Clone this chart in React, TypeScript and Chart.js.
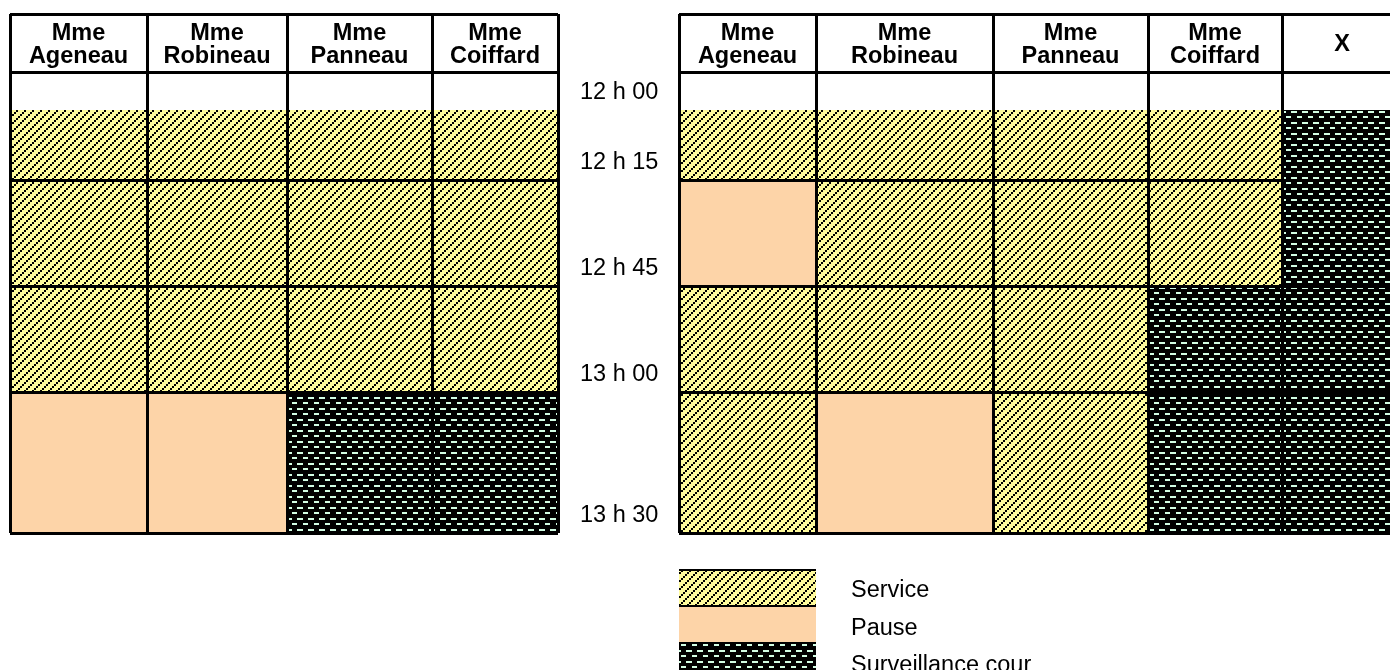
import React, { useEffect, useRef } from 'react';
import { Chart, registerables } from 'chart.js';

Chart.register(...registerables);

// ---------- data ----------
const timeLabels = ['12 h 00', '12 h 15', '12 h 45', '13 h 00', '13 h 30'];

const leftStaff = ['Mme Ageneau', 'Mme Robineau', 'Mme Panneau', 'Mme Coiffard'];
const rightStaff = ['Mme Ageneau', 'Mme Robineau', 'Mme Panneau', 'Mme Coiffard', 'X'];

// '' = empty, 'S' = Service, 'P' = Pause, 'C' = Surveillance cour (one entry per time slot)
const leftAgeneau = ['', 'S', 'S', 'S', 'P'];
const leftRobineau = ['', 'S', 'S', 'S', 'P'];
const leftPanneau = ['', 'S', 'S', 'S', 'C'];
const leftCoiffard = ['', 'S', 'S', 'S', 'C'];

const rightAgeneau = ['', 'S', 'P', 'S', 'S'];
const rightRobineau = ['', 'S', 'S', 'S', 'P'];
const rightPanneau = ['', 'S', 'S', 'S', 'S'];
const rightCoiffard = ['', 'S', 'S', 'C', 'C'];
const rightX = ['', 'C', 'C', 'C', 'C'];

const legendCodes = ['S', 'P', 'C'];
const legendLabels = ['Service', 'Pause', 'Surveillance cour'];

// ---------- layout (spreadsheet row heights / column widths) ----------
const HEADER_H = 58;
const ROW_H = [38, 70, 106, 106, 141];
const LEFT_COL_W = [137, 140, 145, 126];
const RIGHT_COL_W = [137, 177, 155, 134, 120];
const FONT = '"Liberation Sans", Arial, sans-serif';

const cumulative = (arr: number[], start = 0) => {
  const out = [start];
  arr.forEach((v) => out.push(out[out.length - 1] + v));
  return out;
};

function makeFills() {
  const tile = (w: number, h: number, draw: (c: CanvasRenderingContext2D) => void) => {
    const t = document.createElement('canvas');
    t.width = w;
    t.height = h;
    const c = t.getContext('2d')!;
    draw(c);
    return c.createPattern(t, 'repeat')!;
  };
  const service = tile(8, 8, (c) => {
    c.fillStyle = '#FFFB9C';
    c.fillRect(0, 0, 8, 8);
    c.fillStyle = '#000';
    c.fillRect(0, 6, 2, 2);
    c.fillRect(2, 4, 2, 2);
    c.fillRect(4, 2, 2, 2);
    c.fillRect(6, 0, 2, 2);
  });
  const surv = tile(11, 11, (c) => {
    c.fillStyle = '#000';
    c.fillRect(0, 0, 11, 11);
    c.fillStyle = '#D2FDE4';
    c.fillRect(0, 1, 6, 2);
    c.fillRect(6, 6, 5, 2);
  });
  return { S: service, P: '#FDD4A8', C: surv } as Record<string, any>;
}

function buildChart(
  canvas: HTMLCanvasElement,
  staff: string[],
  schedules: string[][],
  colW: number[],
  fills: Record<string, any>,
  withTimes: boolean,
  padding: { left: number; top: number; right: number; bottom: number }
) {
  const colEdges = cumulative(colW);
  const rowEdges = cumulative(ROW_H, HEADER_H);
  const yTicks = [0, ...rowEdges];
  const yMax = rowEdges[rowEdges.length - 1];

  const datasets = schedules.map((sched, j) => {
    const cx = (colEdges[j] + colEdges[j + 1]) / 2;
    return {
      label: staff[j],
      stack: 'table',
      data: sched
        .map((act, i) => ({ x: cx, y: [rowEdges[i], rowEdges[i + 1]], act }))
        .filter((d) => d.act),
      backgroundColor: (ctx: any) => (ctx.raw && fills[ctx.raw.act]) || 'rgba(0,0,0,0)',
      borderWidth: 0,
      inflateAmount: 0,
      barThickness: (ctx: any) => {
        const xs = ctx.chart.scales.x;
        return Math.abs(xs.getPixelForValue(colEdges[j + 1]) - xs.getPixelForValue(colEdges[j]));
      },
    };
  });

  const headerPlugin = {
    id: 'headerText',
    afterDraw(chart: any) {
      const ctx = chart.ctx;
      const xs = chart.scales.x;
      const ys = chart.scales.y;
      const cy = ys.getPixelForValue(HEADER_H / 2);
      ctx.save();
      ctx.fillStyle = '#000';
      ctx.font = `bold 23.5px ${FONT}`;
      ctx.textAlign = 'center';
      ctx.textBaseline = 'alphabetic';
      staff.forEach((name, j) => {
        const lines = name.split(' ');
        const cx = xs.getPixelForValue((colEdges[j] + colEdges[j + 1]) / 2);
        const first = cy - (22.5 * (lines.length - 1)) / 2 + 8.25;
        lines.forEach((l, k) => ctx.fillText(l, cx, first + k * 22.5));
      });
      ctx.restore();
    },
  };

  const legendPlugin = {
    id: 'cellLegend',
    afterDraw(chart: any) {
      if (!withTimes) return;
      const ctx = chart.ctx;
      const xs = chart.scales.x;
      const x0 = xs.getPixelForValue(colEdges[0]);
      const x1 = xs.getPixelForValue(colEdges[1]);
      const b = chart.chartArea.bottom;
      const tops = [b + 36, b + 74, b + 109];
      const bottoms = [b + 74, b + 109, b + 147];
      const baselines = [b + 64, b + 101.5, b + 138.5];
      ctx.save();
      legendCodes.forEach((code, k) => {
        ctx.fillStyle = fills[code];
        ctx.fillRect(x0, tops[k], x1 - x0, bottoms[k] - tops[k]);
        if (code === 'S') {
          ctx.fillStyle = '#000';
          ctx.fillRect(x0, tops[k], x1 - x0, 2);
          ctx.fillRect(x0, bottoms[k] - 2, x1 - x0, 2);
        }
        ctx.fillStyle = '#000';
        ctx.font = `23.5px ${FONT}`;
        ctx.textAlign = 'left';
        ctx.textBaseline = 'alphabetic';
        ctx.fillText(legendLabels[k], x1 + 35, baselines[k]);
      });
      ctx.restore();
    },
  };

  return new Chart(canvas, {
    type: 'bar',
    data: { datasets: datasets as any },
    options: {
      responsive: false,
      animation: false,
      layout: { padding },
      plugins: { legend: { display: false }, tooltip: { enabled: false } },
      scales: {
        x: {
          type: 'linear',
          offset: false,
          min: 0,
          max: colEdges[colEdges.length - 1],
          grid: { color: '#000', lineWidth: 3, drawTicks: false, offset: false, z: 1 } as any,
          border: { display: false },
          ticks: { display: false },
          afterBuildTicks: (s: any) => {
            s.ticks = colEdges.map((v) => ({ value: v }));
          },
          afterFit: (s: any) => {
            s.height = 0;
            s.paddingLeft = 0;
            s.paddingRight = 0;
          },
        },
        y: {
          type: 'linear',
          reverse: true,
          offset: false,
          min: 0,
          max: yMax,
          stacked: false,
          grid: {
            color: (ctx: any) => (ctx.tick && ctx.tick.value === rowEdges[1] ? 'rgba(0,0,0,0)' : '#000'),
            lineWidth: 3,
            drawTicks: false,
            offset: false,
            z: 1,
          } as any,
          border: { display: false },
          ticks: {
            display: withTimes,
            autoSkip: false,
            labelOffset: -17.5,
            crossAlign: 'far',
            color: '#000',
            font: { family: FONT, size: 23.5 },
            callback: (v: any) => {
              const i = rowEdges.indexOf(Number(v));
              return i >= 1 ? timeLabels[i - 1] : '';
            },
          },
          afterBuildTicks: (s: any) => {
            s.ticks = yTicks.map((v) => ({ value: v }));
          },
          afterFit: (s: any) => {
            s.width = withTimes ? 99 : 0;
            s.paddingTop = 0;
            s.paddingBottom = 0;
          },
        },
      },
    },
    plugins: [headerPlugin, legendPlugin],
  } as any);
}

export default function App() {
  const leftRef = useRef<HTMLCanvasElement>(null);
  const rightRef = useRef<HTMLCanvasElement>(null);

  useEffect(() => {
    const fills = makeFills();
    const c1 = buildChart(
      leftRef.current!,
      leftStaff,
      [leftAgeneau, leftRobineau, leftPanneau, leftCoiffard],
      LEFT_COL_W,
      fills,
      false,
      { left: 10, top: 14, right: 22, bottom: 27 }
    );
    const c2 = buildChart(
      rightRef.current!,
      rightStaff,
      [rightAgeneau, rightRobineau, rightPanneau, rightCoiffard, rightX],
      RIGHT_COL_W,
      fills,
      true,
      { left: 15, top: 14, right: 5, bottom: 137 }
    );
    return () => {
      c1.destroy();
      c2.destroy();
    };
  }, []);

  return (
    <div
      style={{
        position: 'absolute',
        left: 0,
        top: 0,
        width: 1390,
        height: 670,
        overflow: 'hidden',
        background: '#fff',
      }}
    >
      <canvas
        ref={leftRef}
        width={580}
        height={560}
        style={{ position: 'absolute', left: 0, top: 0, width: 580, height: 560 }}
      />
      <canvas
        ref={rightRef}
        width={842}
        height={670}
        style={{ position: 'absolute', left: 565, top: 0, width: 842, height: 670 }}
      />
    </div>
  );
}
